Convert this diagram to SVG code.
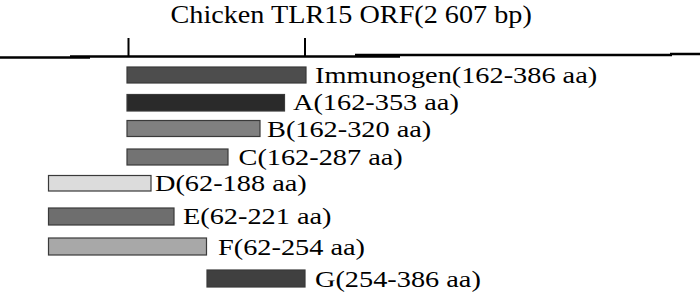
<svg xmlns="http://www.w3.org/2000/svg" width="700" height="294" viewBox="0 0 700 294">
<style>
.t{font-family:'Liberation Serif','Times New Roman',serif;font-size:24px;fill:#000}
.h{font-family:'Liberation Serif','Times New Roman',serif;font-size:25.5px;fill:#000}
.bar{stroke:#3a3a3a;stroke-width:1.2}
.ax{stroke:#000;fill:none}
</style>
<rect width="700" height="294" fill="#fff"/>
<g id="title">
<text class="h" transform="translate(170.5,23) scale(1.106,1)">Chicken TLR15 ORF(2 607 bp)</text>
</g>
<g id="axis">
<path class="ax" stroke-width="2.5" d="M0,57.5 H90 M70,56.5 H400 M355,55 H672 M670,54 H700"/>
<path class="ax" stroke-width="2" d="M128.5,38 V56 M305,38 V56"/>
</g>
<g id="immunogen">
<rect class="bar" x="127" y="67" width="179" height="16" fill="#4d4d4d"/>
<text class="t" transform="translate(315,83) scale(1.18,1)">Immunogen(162-386 aa)</text>
</g>
<g id="A">
<rect class="bar" x="127" y="94.5" width="157.5" height="16.5" fill="#2a2a2a"/>
<text class="t" transform="translate(293,110) scale(1.18,1)">A(162-353 aa)</text>
</g>
<g id="B">
<rect class="bar" x="127" y="120.5" width="133" height="16" fill="#808080" stroke="#6a6a6a"/>
<text class="t" transform="translate(267,137) scale(1.18,1)">B(162-320 aa)</text>
</g>
<g id="C">
<rect class="bar" x="127" y="149" width="101" height="16" fill="#737373"/>
<text class="t" transform="translate(238.5,165) scale(1.18,1)">C(162-287 aa)</text>
</g>
<g id="D">
<rect class="bar" x="48.5" y="175.5" width="102.5" height="15.5" fill="#dcdcdc"/>
<text class="t" transform="translate(155,191) scale(1.18,1)">D(62-188 aa)</text>
</g>
<g id="E">
<rect class="bar" x="48.5" y="208" width="125.5" height="17" fill="#6e6e6e"/>
<text class="t" transform="translate(183,224) scale(1.18,1)">E(62-221 aa)</text>
</g>
<g id="F">
<rect class="bar" x="48.5" y="238" width="158" height="17" fill="#a8a8a8"/>
<text class="t" transform="translate(218,255) scale(1.18,1)">F(62-254 aa)</text>
</g>
<g id="G">
<rect class="bar" x="207" y="270" width="98" height="17" fill="#404040"/>
<text class="t" transform="translate(315,287) scale(1.18,1)">G(254-386 aa)</text>
</g>
<g id="connectors"/>
</svg>
